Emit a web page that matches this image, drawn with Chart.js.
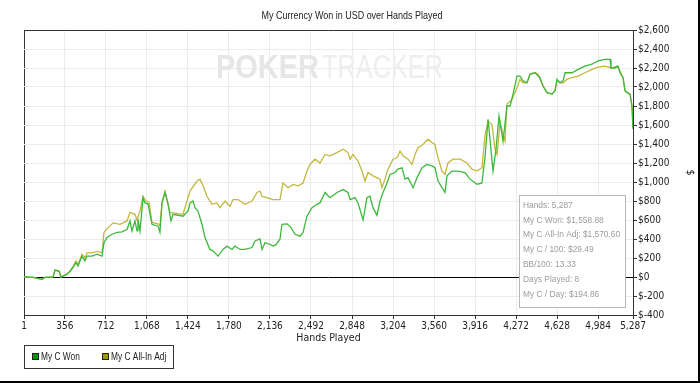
<!DOCTYPE html>
<html>
<head>
<meta charset="utf-8">
<title>My Currency Won in USD over Hands Played</title>
<script src="https://cdn.jsdelivr.net/npm/chart.js@4.4.1/dist/chart.umd.min.js"></script>
<style>
  html, body { margin: 0; padding: 0; background: #fff; }
  #wrap { width: 700px; height: 383px; }
</style>
</head>
<body>
<div id="wrap"><canvas id="winChart" width="700" height="383"></canvas></div>
<script>
// chart data
const chartTitle = "My Currency Won in USD over Hands Played";

const wonHands = [1, 79, 157, 183, 253, 270, 305, 322, 374, 400,
  426, 452, 470, 504, 530, 548, 591, 635, 678, 695,
  721, 765, 808, 852, 895, 921, 938, 964, 982, 990,
  1008, 1034, 1051, 1077, 1112, 1164, 1181, 1199, 1225, 1251,
  1277, 1294, 1381, 1425, 1442, 1468, 1485, 1511, 1546, 1572,
  1615, 1641, 1685, 1728, 1763, 1806, 1832, 1876, 1919, 1980,
  2006, 2049, 2067, 2093, 2136, 2162, 2188, 2223, 2240, 2284,
  2319, 2353, 2397, 2423, 2457, 2501, 2544, 2570, 2614, 2657,
  2718, 2770, 2813, 2831, 2874, 2900, 2944, 2978, 3004, 3030,
  3065, 3091, 3117, 3152, 3178, 3221, 3247, 3282, 3308, 3334,
  3378, 3412, 3456, 3499, 3542, 3568, 3595, 3629, 3655, 3673,
  3716, 3768, 3829, 3872, 3933, 3976, 4002, 4029, 4046, 4072,
  4098, 4124, 4159, 4193, 4220, 4246, 4280, 4306, 4332, 4367,
  4393, 4437, 4463, 4480, 4506, 4541, 4584, 4610, 4627, 4654,
  4680, 4697, 4758, 4810, 4870, 4931, 4983, 5044, 5088, 5096,
  5131, 5157, 5174, 5200, 5218, 5235, 5261, 5278, 5287];
const wonValues = [0, -5, -25, -5, 0, 70, 60, 0, 30, 60,
  100, 150, 115, 220, 170, 220, 220, 240, 220, 360,
  415, 450, 470, 475, 500, 590, 485, 590, 485, 610,
  485, 835, 780, 770, 555, 535, 470, 780, 890, 770,
  590, 660, 640, 695, 780, 800, 730, 695, 555, 415,
  290, 275, 220, 290, 325, 290, 325, 290, 290, 310,
  380, 400, 290, 360, 345, 325, 340, 400, 555, 560,
  520, 450, 430, 470, 640, 730, 765, 780, 890, 835,
  890, 920, 890, 815, 835, 780, 600, 835, 850, 730,
  650, 800, 890, 990, 1080, 1100, 1135, 1150, 1030, 1045,
  940, 1045, 1150, 1185, 1170, 1150, 1010, 940, 890, 1065,
  1115, 1115, 1100, 1030, 975, 990, 1255, 1660, 1450, 1115,
  1345, 1695, 1430, 1800, 1800, 1925, 2115, 2115, 2065, 2045,
  2135, 2150, 2115, 2100, 2010, 1940, 1925, 1960, 2080, 2045,
  2065, 2150, 2150, 2185, 2220, 2240, 2275, 2290, 2290, 2200,
  2200, 2220, 2150, 2100, 1960, 1940, 1925, 1800, 1558.88];

const adjHands = [1, 79, 157, 183, 253, 270, 305, 322, 374, 400,
  426, 452, 470, 504, 530, 548, 591, 635, 678, 695,
  730, 774, 834, 895, 921, 964, 982, 1008, 1034, 1060,
  1086, 1112, 1164, 1181, 1199, 1225, 1268, 1381, 1442, 1503,
  1529, 1555, 1589, 1633, 1676, 1702, 1746, 1789, 1815, 1859,
  1919, 1980, 2023, 2049, 2067, 2110, 2162, 2197, 2223, 2249,
  2293, 2336, 2379, 2423, 2457, 2483, 2527, 2570, 2614, 2657,
  2718, 2770, 2813, 2831, 2857, 2900, 2935, 2961, 2987, 3030,
  3091, 3108, 3134, 3160, 3204, 3239, 3265, 3291, 3334, 3369,
  3395, 3421, 3464, 3508, 3542, 3568, 3595, 3629, 3655, 3681,
  3725, 3786, 3846, 3889, 3933, 3976, 4002, 4029, 4063, 4089,
  4107, 4133, 4159, 4176, 4193, 4237, 4280, 4306, 4332, 4367,
  4393, 4437, 4463, 4506, 4541, 4584, 4610, 4627, 4654, 4680,
  4714, 4758, 4810, 4870, 4931, 4983, 5044, 5105, 5148, 5174,
  5200, 5218, 5261, 5278, 5287];
const adjValues = [0, -5, -25, -5, 0, 75, 65, 0, 30, 60,
  110, 170, 130, 240, 200, 255, 255, 270, 255, 470,
  520, 570, 555, 590, 680, 660, 600, 695, 850, 800,
  790, 575, 560, 540, 780, 900, 680, 660, 905, 1010,
  1030, 960, 850, 765, 780, 730, 800, 745, 815, 815,
  765, 800, 890, 905, 850, 835, 815, 815, 815, 990,
  940, 975, 960, 990, 1115, 1185, 1240, 1200, 1290, 1275,
  1310, 1345, 1310, 1240, 1290, 1220, 1115, 1010, 1100, 1065,
  1030, 940, 1030, 1135, 1240, 1255, 1325, 1275, 1240, 1185,
  1290, 1360, 1395, 1450, 1415, 1395, 1255, 1115, 1080, 1200,
  1240, 1240, 1200, 1135, 1115, 1150, 1485, 1640, 1605, 1345,
  1290, 1625, 1500, 1430, 1820, 1870, 1990, 2080, 2045, 2045,
  2135, 2150, 2135, 2010, 1940, 1925, 1960, 2065, 2045, 2045,
  2080, 2100, 2115, 2150, 2185, 2210, 2220, 2200, 2220, 2170,
  2100, 1960, 1925, 1800, 1570.60];

const xTickValues = [1, 356, 712, 1068, 1424, 1780, 2136, 2492, 2848, 3204, 3560, 3916, 4272, 4628, 4984, 5287];
const yMin = -400;
const yMax = 2600;
const yStep = 200;

const statLines = [
  "Hands: 5,287",
  "My C Won: $1,558.88",
  "My C All-In Adj: $1,570.60",
  "My C / 100: $29.49",
  "BB/100: 13.33",
  "Days Played: 8",
  "My C / Day: $194.86"
];

const narrowFont = "'Liberation Sans Narrow', 'DejaVu Sans Condensed', 'Liberation Sans', Arial, sans-serif";
const plainFont = "'Liberation Sans', Arial, sans-serif";

function toPoints(xs, ys) {
  return xs.map((x, i) => ({ x: x, y: ys[i] }));
}

// draw text squeezed sideways (the original uses a narrow face)
function squeezeText(ctx, text, x, y, factor) {
  ctx.save();
  ctx.translate(x, y);
  ctx.scale(factor, 1);
  ctx.fillText(text, 0, 0);
  ctx.restore();
}

// watermark, title, stats box, legend and frame
const extrasPlugin = {
  id: "ptExtras",
  beforeDatasetsDraw(chart) {
    const ctx = chart.ctx;
    ctx.save();
    ctx.textBaseline = "alphabetic";
    ctx.textAlign = "left";
    ctx.font = "bold 34px " + plainFont;
    ctx.fillStyle = "#e6e6e6";
    squeezeText(ctx, "POKER", 216, 78, 103 / ctx.measureText("POKER").width);
    ctx.font = "34px " + plainFont;
    ctx.fillStyle = "#eeeeee";
    squeezeText(ctx, "TRACKER", 322, 78, 121 / ctx.measureText("TRACKER").width);
    ctx.restore();
  },
  afterDraw(chart) {
    const ctx = chart.ctx;
    ctx.save();

    // title
    ctx.fillStyle = "#222";
    ctx.font = "11px " + plainFont;
    ctx.textBaseline = "middle";
    ctx.textAlign = "left";
    const tw = ctx.measureText(chartTitle).width;
    squeezeText(ctx, chartTitle, 352 - 90.5, 16, 181 / tw);

    // stats box
    ctx.fillStyle = "#fff";
    ctx.fillRect(519, 195, 106, 112);
    ctx.strokeStyle = "#b8b8b8";
    ctx.lineWidth = 1;
    ctx.strokeRect(519.5, 195.5, 106, 112);
    ctx.fillStyle = "#9c9c9c";
    ctx.font = "9.5px " + plainFont;
    statLines.forEach((line, i) => {
      squeezeText(ctx, line, 523, 205 + i * 14.9, 0.88);
    });

    // legend
    ctx.strokeStyle = "#333";
    ctx.strokeRect(24.5, 345.5, 149, 23);
    ctx.font = "11px " + plainFont;
    let lx = 32;
    chart.data.datasets.forEach(ds => {
      ctx.fillStyle = ds.legendColor;
      ctx.fillRect(lx, 353, 7, 7);
      ctx.strokeStyle = "#222";
      ctx.strokeRect(lx + 0.5, 353.5, 6, 6);
      ctx.fillStyle = "#222";
      squeezeText(ctx, ds.label, lx + 9, 357, 0.76);
      lx += 70;
    });

    // outer frame (right and bottom)
    ctx.fillStyle = "#000";
    ctx.fillRect(698, 0, 2, 383);
    ctx.fillRect(0, 381, 700, 2);
    ctx.restore();
  }
};

const ctx = document.getElementById("winChart").getContext("2d");

new Chart(ctx, {
  type: "line",
  data: {
    datasets: [
      {
        label: "My C Won",
        data: toPoints(wonHands, wonValues),
        borderColor: "#3cb83c",
        legendColor: "#009900",
        borderWidth: 1.3,
        pointRadius: 0,
        tension: 0,
        fill: false
      },
      {
        label: "My C All-In Adj",
        data: toPoints(adjHands, adjValues),
        borderColor: "#c2b83e",
        legendColor: "#999900",
        borderWidth: 1.3,
        pointRadius: 0,
        tension: 0,
        fill: false
      }
    ]
  },
  options: {
    responsive: false,
    animation: false,
    devicePixelRatio: 1,
    layout: { padding: { left: 24, top: 30, right: 0, bottom: 0 } },
    plugins: {
      legend: { display: false },
      title: { display: false },
      tooltip: { enabled: false }
    },
    scales: {
      x: {
        type: "linear",
        min: 1,
        max: 5287,
        afterBuildTicks: scale => {
          scale.ticks = xTickValues.map(v => ({ value: v }));
        },
        afterFit: scale => { scale.height = 68; },
        ticks: {
          autoSkip: false,
          maxRotation: 0,
          padding: 1,
          color: "#222",
          font: { family: narrowFont, size: 10 },
          callback: v => v.toLocaleString("en-US")
        },
        grid: {
          color: c => (c.tick && c.tick.value === 1 ? "#333" : "#ececec"),
          tickColor: "#333",
          tickLength: 4
        },
        border: { display: true, color: "#333" },
        title: {
          display: true,
          text: "Hands Played",
          color: "#222",
          font: { family: narrowFont, size: 10.5 },
          padding: { top: 4, bottom: 38 }
        }
      },
      y: {
        position: "right",
        min: yMin,
        max: yMax,
        afterFit: scale => { scale.width = 67; },
        ticks: {
          stepSize: yStep,
          padding: 1,
          color: "#222",
          font: { family: narrowFont, size: 10 },
          callback: v => "$" + v.toLocaleString("en-US")
        },
        grid: {
          color: c => {
            if (!c.tick) return "#ececec";
            if (c.tick.value === 0) return "#000";
            if (c.tick.value === yMax) return "#333";
            return "#ececec";
          },
          tickColor: "#333",
          tickLength: 4
        },
        border: { display: true, color: "#333" },
        title: {
          display: true,
          text: "$",
          color: "#222",
          font: { family: narrowFont, size: 10.5 },
          padding: { top: 4, bottom: 0 }
        }
      }
    }
  },
  plugins: [extrasPlugin]
});
</script>
</body>
</html>
